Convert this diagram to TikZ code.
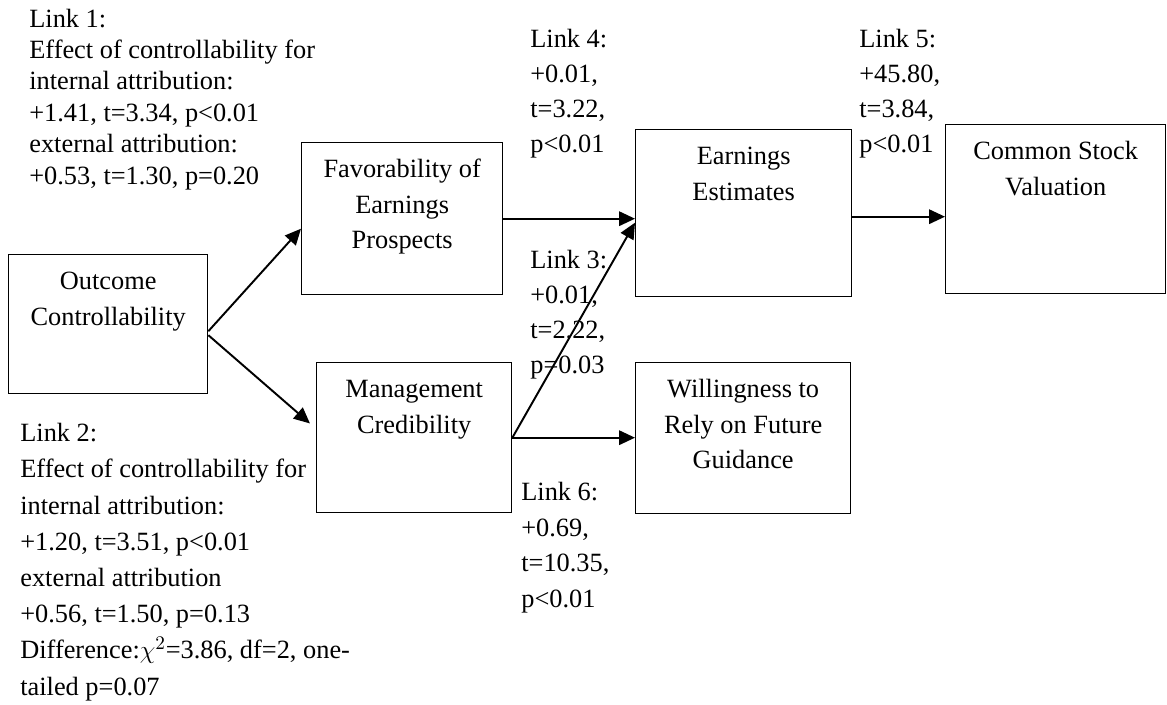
\documentclass[tikz,border=0pt]{standalone}
\usepackage{fontspec}
\setmainfont{Liberation Serif}
\usepackage{amsmath}
\usetikzlibrary{arrows.meta}

\newcommand{\boxtext}[3]{\parbox[c][#2][t]{#1}{\centering\rule{0pt}{0.7cm}#3}}

\begin{document}
\begin{tikzpicture}[x=0.02cm,y=-0.02cm,
                    box node/.style={draw,line width=0.8pt,inner sep=0pt,anchor=north west,font=\fontsize{15}{20.1}\selectfont},
                    link text/.style={anchor=base west,align=left,inner sep=0pt},
                    link arrow/.style={-{Triangle[length=0.32cm,width=0.29cm]},line width=1.1pt}]

  \useasboundingbox (0,0) rectangle (1167,704);

  \node[box node] (outcome) at (8,254) {\boxtext{3.98cm}{2.78cm}{Outcome\\Controllability}};
  \node[box node] (favor) at (301,142) {\boxtext{4.02cm}{3.04cm}{Favorability of\\Earnings\\Prospects}};
  \node[box node] (mgmt) at (316,362) {\boxtext{3.9cm}{3.0cm}{Management\\Credibility}};
  \node[box node] (earn) at (635,129) {\boxtext{4.32cm}{3.34cm}{Earnings\\Estimates}};
  \node[box node] (stock) at (945,124) {\boxtext{4.4cm}{3.38cm}{Common Stock\\Valuation}};
  \node[box node] (will) at (635,362) {\boxtext{4.3cm}{3.02cm}{Willingness to\\Rely on Future\\Guidance}};

  \node[link text,font=\fontsize{15}{17.86}\selectfont] (link1) at (29,184)
    {Link 1:\\Effect of controllability for\\internal attribution:\\+1.41, t=3.34, p<0.01\\external attribution:\\+0.53, t=1.30, p=0.20};
  \node[link text,font=\fontsize{15}{20.6}\selectfont] (link2) at (20,695)
    {Link 2:\\Effect of controllability for\\internal attribution:\\+1.20, t=3.51, p<0.01\\external attribution\\+0.56, t=1.50, p=0.13\\Difference:$\chi^2$=3.86, df=2, one-\\tailed p=0.07};
  \node[link text,font=\fontsize{15}{19.9}\selectfont] (link3) at (530,373) {Link 3:\\+0.01,\\t=2.22,\\p=0.03};
  \node[link text,font=\fontsize{15}{19.9}\selectfont] (link4) at (530,152) {Link 4:\\+0.01,\\t=3.22,\\p<0.01};
  \node[link text,font=\fontsize{15}{19.9}\selectfont] (link5) at (859,152) {Link 5:\\+45.80,\\t=3.84,\\p<0.01};
  \node[link text,font=\fontsize{15}{20.2}\selectfont] (link6) at (521,607) {Link 6:\\+0.69,\\t=10.35,\\p<0.01};

  \path[link arrow]
  ([yshift=-0.14cm]outcome.east) edge ([yshift=-0.2cm]favor.west)
  ([yshift=-0.22cm]outcome.east) edge[shorten >=0.16cm] ([yshift=0.18cm]mgmt.west)
  (favor.east) edge (favor.east -| earn.west)
  (mgmt.east) edge ([yshift=-0.19cm]earn.west)
  (mgmt.east) edge (mgmt.east -| will.west)
  ([yshift=-0.07cm]earn.east) edge ([yshift=-0.07cm]earn.east -| stock.west);

\end{tikzpicture}
\end{document}
